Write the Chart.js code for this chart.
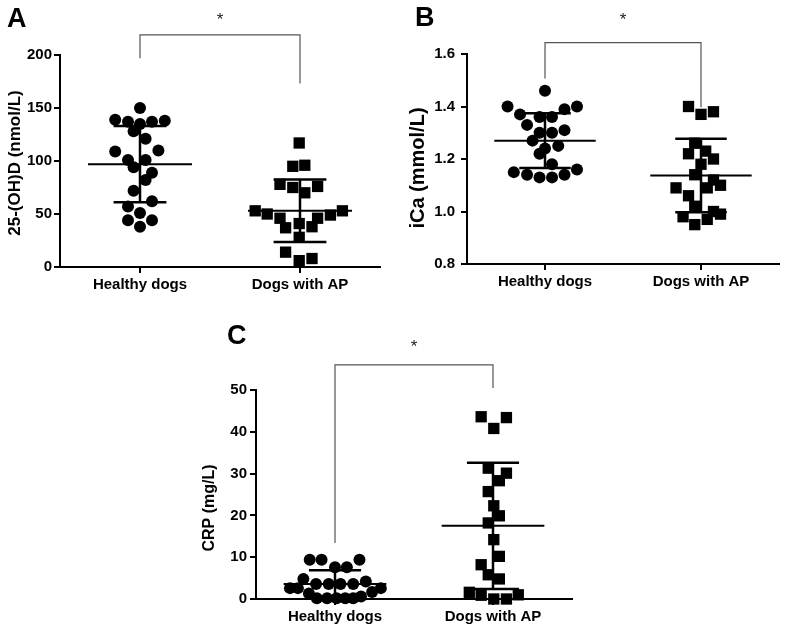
<!DOCTYPE html>
<html>
<head>
<meta charset="utf-8">
<script src="https://cdn.jsdelivr.net/npm/chart.js@4.4.1/dist/chart.umd.min.js"></script>
<style>
body { margin: 0; background: #fff; width: 787px; height: 628px; position: relative; overflow: hidden; }
canvas { position: absolute; }
</style>
</head>
<body>
<canvas id="chartA" width="390" height="305" style="left:0;top:0"></canvas>
<canvas id="chartB" width="397" height="305" style="left:390px;top:0"></canvas>
<canvas id="chartC" width="400" height="323" style="left:180px;top:305px"></canvas>
<script>
var groups = ["Healthy dogs", "Dogs with AP"];

// A: 25-(OH)D
var vitDTicks = [0, 50, 100, 150, 200];
var vitDHealthy = [150, 139, 137, 135, 137, 138, 128, 121, 109, 110, 101, 101, 94, 89, 82, 72, 62, 57, 51, 44, 44, 38];
var vitDHealthyJitter = [0, -0.31, -0.15, 0, 0.15, 0.31, -0.08, 0.07, -0.31, 0.23, -0.15, 0.07, -0.08, 0.15, 0.07, -0.08, 0.15, -0.15, 0, -0.15, 0.15, 0];
var vitDAP = [117, 95, 96, 78, 75, 70, 76, 53, 50, 46, 37, 41, 38, 46, 49, 53, 28, 14, 6, 8];
var vitDAPJitter = [-0.01, -0.09, 0.06, -0.25, -0.09, 0.06, 0.22, -0.56, -0.41, -0.25, -0.18, -0.01, 0.15, 0.22, 0.38, 0.53, -0.01, -0.18, -0.01, 0.15];
var vitDMean = [97, 53];
var vitDSD = [36, 29.5];
var vitDBracket = [197, 219, 173, 233]; // left leg end, top, right leg end, star

// B: iCa
var iCaTicks = [0.8, 1.0, 1.2, 1.4, 1.6];
var iCaHealthy = [1.46, 1.40, 1.40, 1.39, 1.37, 1.36, 1.36, 1.33, 1.30, 1.30, 1.31, 1.27, 1.25, 1.24, 1.22, 1.18, 1.15, 1.14, 1.13, 1.13, 1.14, 1.16];
var iCaHealthyJitter = [0, -0.48, 0.41, 0.25, -0.32, -0.07, 0.09, -0.23, -0.07, 0.09, 0.25, -0.16, 0.17, 0, -0.07, 0.09, -0.40, -0.23, -0.07, 0.09, 0.25, 0.41];
var iCaAP = [1.40, 1.37, 1.38, 1.26, 1.22, 1.23, 1.20, 1.18, 1.14, 1.12, 1.10, 1.09, 1.09, 1.06, 1.02, 1.00, 0.99, 0.98, 0.97, 0.95];
var iCaAPJitter = [-0.16, 0, 0.16, -0.08, -0.16, 0.06, 0.16, 0, -0.08, 0.16, 0.25, 0.08, -0.32, -0.16, -0.08, 0.16, 0.25, -0.23, 0.08, -0.08];
var iCaMean = [1.27, 1.137];
var iCaSD = [0.104, 0.14];
var iCaBracket = [1.507, 1.643, 1.397, 1.73];

// C: CRP
var crpTicks = [0, 10, 20, 30, 40, 50];
var crpHealthy = [9.4, 9.4, 9.4, 7.6, 7.6, 4.8, 2.6, 2.6, 3.6, 3.6, 3.6, 3.6, 4.2, 2.6, 1.7, 1.3, 0.2, 0.2, 0.2, 0.2, 0.2, 0.6];
var crpHealthyJitter = [-0.32, -0.17, 0.31, 0, 0.15, -0.40, -0.57, -0.47, -0.24, -0.08, 0.07, 0.23, 0.39, 0.58, 0.47, -0.33, -0.23, -0.10, 0.02, 0.13, 0.23, 0.33];
var crpAP = [43.6, 43.4, 40.8, 31.3, 30.1, 28.3, 25.7, 22.3, 19.9, 18.2, 14.2, 10.2, 8.2, 5.8, 4.8, 1.6, 0.9, 1.0, 0, 0];
var crpAPJitter = [-0.15, 0.17, 0.01, -0.06, 0.17, 0.08, -0.06, 0.01, 0.08, -0.06, 0.01, 0.08, -0.15, -0.06, 0.08, -0.30, -0.15, 0.32, 0.01, 0.17];
var crpMean = [3.6, 17.5];
var crpSD = [3.25, 15.1];
var crpBracket = [13.4, 56, 50.5, 60.2];

var FONT = '"Liberation Sans", Arial, sans-serif';
var catX = [1, 3];

function points(vals, jit, cat) {
  return vals.map(function (v, i) { return { x: cat + jit[i], y: v }; });
}

function seg(x1, y1, x2, y2, w, col) {
  return {
    type: 'line', data: [{ x: x1, y: y1 }, { x: x2, y: y2 }],
    borderColor: col || '#000', borderWidth: w, pointRadius: 0, clip: false, fill: false
  };
}

// panel letter, y-axis title and significance star
var extras = {
  id: 'extras',
  afterDraw: function (chart) {
    var o = chart.options.plugins.extras;
    var ctx = chart.ctx;
    ctx.save();
    ctx.fillStyle = '#000';
    ctx.font = 'bold 27px ' + FONT;
    ctx.textBaseline = 'top';
    ctx.fillText(o.letter, o.lx, o.ly);

    ctx.save();
    ctx.translate(o.tx, o.ty);
    ctx.rotate(-Math.PI / 2);
    ctx.font = 'bold ' + o.tSize + 'px ' + FONT;
    ctx.textAlign = 'center';
    ctx.textBaseline = 'middle';
    ctx.fillText(o.title, 0, 0);
    ctx.restore();

    ctx.font = '17px ' + FONT;
    ctx.fillStyle = '#222';
    ctx.textAlign = 'center';
    ctx.textBaseline = 'middle';
    ctx.fillText('*', chart.scales.x.getPixelForValue(2), chart.scales.y.getPixelForValue(o.star));
    ctx.restore();
  }
};

function makePanel(id, p) {
  var ds = [
    { data: points(p.healthy, p.hJit, catX[0]), pointStyle: 'circle', pointRadius: 6, backgroundColor: '#000', borderColor: '#000', borderWidth: 0, clip: false },
    { data: points(p.ap, p.aJit, catX[1]), pointStyle: 'rect', pointRadius: 8, backgroundColor: '#000', borderColor: '#000', borderWidth: 0, clip: false }
  ];
  for (var g = 0; g < 2; g++) {
    var c = catX[g], m = p.mean[g], s = p.sd[g];
    ds.push(seg(c - 0.65, m, c + 0.65, m, 2));
    ds.push(seg(c - 0.33, m + s, c + 0.33, m + s, 2.5));
    ds.push(seg(c - 0.33, m - s, c + 0.33, m - s, 2.5));
    ds.push(seg(c, m - s, c, m + s, 2.5));
  }
  var b = p.bracket;
  ds.push({
    type: 'line',
    data: [{ x: catX[0], y: b[0] }, { x: catX[0], y: b[1] }, { x: catX[1], y: b[1] }, { x: catX[1], y: b[2] }],
    borderColor: '#555', borderWidth: 1.2, pointRadius: 0, clip: false, fill: false, tension: 0
  });

  return new Chart(document.getElementById(id), {
    type: 'scatter',
    data: { datasets: ds },
    plugins: [extras],
    options: {
      responsive: false,
      animation: false,
      layout: { padding: p.pad },
      plugins: {
        legend: { display: false },
        tooltip: { enabled: false },
        extras: { letter: p.letter, lx: p.lx, ly: p.ly, star: b[3], title: p.title, tSize: p.titleSize, tx: p.tx, ty: p.ty }
      },
      scales: {
        x: {
          type: 'linear', min: 0, max: 4,
          afterBuildTicks: function (sc) { sc.ticks = catX.map(function (v) { return { value: v }; }); },
          afterFit: function (sc) { sc.height = p.xH; },
          ticks: {
            callback: function (v) { return groups[catX.indexOf(v)]; },
            font: { family: FONT, size: 15, weight: 'bold' }, color: '#000', padding: 3, maxRotation: 0
          },
          grid: { drawOnChartArea: false, drawTicks: true, tickLength: 6, color: '#000', lineWidth: 2 },
          border: { display: true, color: '#000', width: 2 }
        },
        y: {
          type: 'linear', min: p.ticks[0], max: p.ticks[p.ticks.length - 1],
          afterBuildTicks: function (sc) { sc.ticks = p.ticks.map(function (v) { return { value: v }; }); },
          afterFit: function (sc) { sc.width = p.yW; },
          ticks: {
            callback: p.fmt,
            font: { family: FONT, size: 15, weight: 'bold' }, color: '#000', padding: p.tickPad
          },
          grid: { drawOnChartArea: false, drawTicks: true, tickLength: 6, color: '#000', lineWidth: 2 },
          border: { display: true, color: '#000', width: 2 }
        }
      }
    }
  });
}

makePanel('chartA', {
  healthy: vitDHealthy, hJit: vitDHealthyJitter, ap: vitDAP, aJit: vitDAPJitter,
  mean: vitDMean, sd: vitDSD, bracket: vitDBracket, ticks: vitDTicks,
  fmt: function (v) { return String(v); }, tickPad: 2,
  title: '25-(OH)D (nmol/L)', titleSize: 17, tx: 15, ty: 163,
  pad: { left: 0, top: 55, right: 10, bottom: 0 }, yW: 60, xH: 38,
  letter: 'A', lx: 7, ly: 6
});

makePanel('chartB', {
  healthy: iCaHealthy, hJit: iCaHealthyJitter, ap: iCaAP, aJit: iCaAPJitter,
  mean: iCaMean, sd: iCaSD, bracket: iCaBracket, ticks: iCaTicks,
  fmt: function (v) { return v.toFixed(1); }, tickPad: 6,
  title: 'iCa (mmol/L)', titleSize: 20, tx: 28, ty: 168,
  pad: { left: 0, top: 54, right: 7, bottom: 0 }, yW: 77, xH: 41,
  letter: 'B', lx: 25, ly: 5
});

makePanel('chartC', {
  healthy: crpHealthy, hJit: crpHealthyJitter, ap: crpAP, aJit: crpAPJitter,
  mean: crpMean, sd: crpSD, bracket: crpBracket, ticks: crpTicks,
  fmt: function (v) { return String(v); }, tickPad: 3,
  title: 'CRP (mg/L)', titleSize: 16, tx: 30, ty: 203,
  pad: { left: 0, top: 85, right: 5, bottom: 0 }, yW: 76, xH: 29,
  letter: 'C', lx: 47, ly: 18
});
</script>
</body>
</html>
